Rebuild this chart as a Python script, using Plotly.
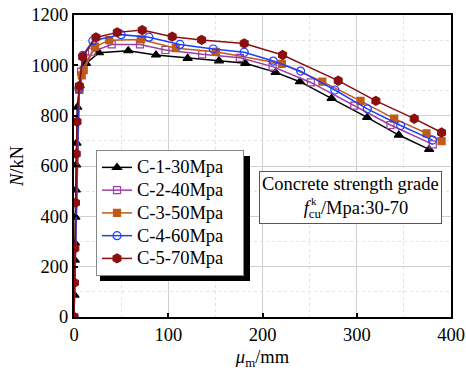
import plotly.graph_objects as go

names = ["C-1-30Mpa", "C-2-40Mpa", "C-3-50Mpa", "C-4-60Mpa", "C-5-70Mpa"]

c1_x = [0, 0.5, 0.9, 1.1, 1.5, 1.9, 2.3, 2.7, 3.5, 6.0, 12.7, 26.5, 57.6, 87, 120.6, 153.8, 181.7, 213.9, 239.7, 273.3, 311, 344.6, 376.8]
c1_y = [0, 87, 226, 294, 397, 505, 604, 691, 834, 920, 1008, 1050, 1058, 1041, 1028, 1018, 1008, 972, 935, 869, 793, 723, 666]

c2_x = [0, 5.5, 7.5, 19.1, 40, 70, 97, 136, 176, 210.7, 251.3, 297.5, 335.8, 380.6]
c2_y = [0, 905, 975, 1054, 1083, 1083, 1061, 1044, 1030, 995, 932, 840, 763, 686]

c3_x = [0, 5.6, 8.2, 10.3, 22.3, 37.4, 71, 108, 150.6, 220.5, 263.5, 304, 339.7, 374, 390]
c3_y = [0, 902, 960, 981, 1074, 1100, 1103, 1068, 1054, 1006, 935, 859, 788, 730, 699]

c4_x = [0, 5.3, 9.5, 20, 50, 79.5, 112.4, 147.7, 180.6, 211.4, 240.4, 276.8, 311.2, 346.6, 380.4]
c4_y = [0, 906, 1040, 1098, 1122, 1112, 1083, 1065, 1052, 1017, 977, 902, 827, 761, 703]

c5_x = [0, 0.5, 0.9, 1.6, 2.4, 3.2, 5.6, 9.2, 23.3, 45.9, 72.4, 104.2, 135.4, 180.6, 221.3, 280.3, 320.3, 361, 390]
c5_y = [0, 136, 273, 454, 648, 776, 918, 1034, 1111, 1131, 1140, 1114, 1101, 1087, 1041, 939, 859, 788, 733]

xs = [c1_x, c2_x, c3_x, c4_x, c5_x]
ys = [c1_y, c2_y, c3_y, c4_y, c5_y]
colors = ["#000000", "#9b3fa3", "#c05a14", "#1f3fff", "#8b0f0f"]
symbols = ["triangle-up", "square-open", "square", "circle-open", "hexagon"]
msizes = [8, 7, 7, 8, 9]

FONT = "Liberation Serif, Times New Roman, serif"
FS = 18.5

fig = go.Figure()
for n, x, y, c, s, ms in zip(names, xs, ys, colors, symbols, msizes):
    mk = dict(symbol=s, size=ms, color=c, line=dict(color=c, width=1.2))
    fig.add_trace(go.Scatter(x=x, y=y, mode="lines+markers",
                             name='<span style="font-size:%spx">%s%s</span>' % (FS, n, "&nbsp;" * 3),
                             line=dict(color=c, width=1.5), marker=mk))

L, R, T, B = 74, 15, 15, 58
W, H = 466, 375
pw, ph = W - L - R, H - T - B

def px2paper(x, y):
    return (x - L) / pw, (H - B - y) / ph

# legend shadow
x0, y0 = px2paper(100, 156)
x1, y1 = px2paper(250, 281)
fig.add_shape(type="rect", xref="paper", yref="paper", x0=x0, x1=x1, y0=y1, y1=y0,
              fillcolor="black", line=dict(width=0), layer="above")

lx, ly = px2paper(96, 150)
fig.update_layout(
    width=W, height=H,
    margin=dict(l=L, r=R, t=T, b=B, autoexpand=False),
    paper_bgcolor="white", plot_bgcolor="white",
    font=dict(family=FONT, size=FS, color="black"),
    showlegend=True,
    legend=dict(x=lx, y=ly, xanchor="left", yanchor="top",
                bgcolor="white", bordercolor="#888888", borderwidth=1,
                font=dict(family=FONT, size=15.2, color="black"),
                tracegroupgap=0, itemwidth=30),
    xaxis=dict(range=[0, 400], dtick=100, tick0=0, automargin=False,
               showline=True, linecolor="black", linewidth=2, mirror=True,
               ticks="inside", ticklen=4, tickcolor="black", tickwidth=1.5,
               showgrid=True, gridcolor="#cfcfcf", gridwidth=1.2, zeroline=False,
               minor=dict(dtick=50, showgrid=True, gridcolor="#e2e2e2", griddash="dot", gridwidth=1),
               title=dict(text="<i>μ</i><sub>m</sub>/mm", font=dict(size=FS), standoff=6),
               tickfont=dict(size=FS)),
    yaxis=dict(range=[0, 1200], dtick=200, tick0=0, automargin=False,
               showline=True, linecolor="black", linewidth=2, mirror=True,
               ticks="inside", ticklen=4, tickcolor="black", tickwidth=1.5,
               showgrid=True, gridcolor="#cfcfcf", gridwidth=1.2, zeroline=False,
               minor=dict(dtick=100, showgrid=True, gridcolor="#e2e2e2", griddash="dot", gridwidth=1),
               title=dict(text="<i>N</i>/kN", font=dict(size=FS), standoff=3),
               tickfont=dict(size=FS)),
)

ax, ay = px2paper(350, 197.5)
fig.add_annotation(xref="paper", yref="paper", x=ax, y=ay, xanchor="center", yanchor="middle",
                   text="Concrete strength grade<br>" + "&nbsp;" * 9 + "<i>f</i><sub>cu</sub>/Mpa:30-70",
                   showarrow=False, align="left",
                   bordercolor="#555555", borderwidth=1, borderpad=2, bgcolor="white",
                   font=dict(family=FONT, size=FS, color="black"))
kx, ky = px2paper(314, 201)
fig.add_annotation(xref="paper", yref="paper", x=kx, y=ky, xanchor="center", yanchor="middle",
                   text="k", showarrow=False, font=dict(family=FONT, size=11, color="black"))

fig.write_html("out.html")
